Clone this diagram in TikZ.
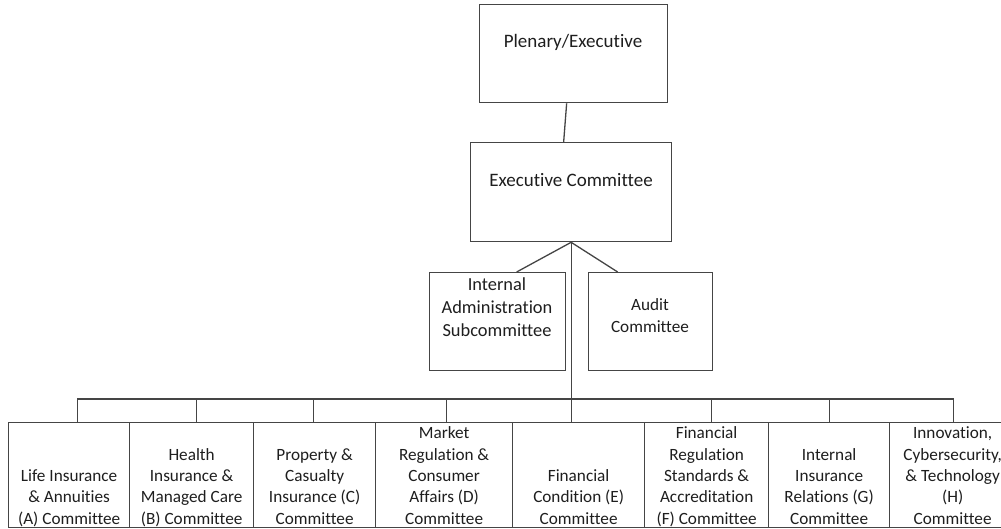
\documentclass[tikz,border=0pt]{standalone}
\usepackage{fontspec}
\setmainfont{Carlito}[RawFeature={-liga;-clig;-dlig}]
\begin{document}
\begin{tikzpicture}[x=1pt,y=-1pt,
  box/.style={draw=linec,line width=1.3pt,inner sep=0pt,anchor=north west},
  conn/.style={draw=linec,line width=1.3pt},
  btxt/.style={align=center,inner sep=0pt,text depth=0pt,anchor=south,text=txtc,font=\fontsize{17.2}{21.3}\selectfont},
  mtxt/.style={align=center,inner sep=0pt,text=txtc,font=\fontsize{18.4}{22.8}\selectfont},
  ttxt/.style={align=center,inner sep=0pt,text=txtc,font=\fontsize{19}{23}\selectfont}]
\definecolor{linec}{HTML}{454545}
\definecolor{txtc}{HTML}{1E1E1E}
\useasboundingbox (0,0) rectangle (1001,529);
% top boxes
\node[box,minimum width=188pt,minimum height=98pt] (plen) at (479,4) {};
\node[ttxt] (plent) at (573,42) {Plenary/Executive};
\node[box,minimum width=201pt,minimum height=99pt] (exec) at (470,142) {};
\node[ttxt] (exect) at (571,180) {Executive Committee};
% middle boxes
\node[box,minimum width=136pt,minimum height=98pt] (ia) at (429,272) {};
\node[mtxt] (iat) at (497,307) {Internal\\Administration\\Subcommittee};
\node[box,minimum width=124pt,minimum height=98pt] (aud) at (588,272) {};
\node[mtxt,font=\fontsize{17.2}{22}\selectfont] (audt) at (650,316) {Audit\\Committee};
% bottom boxes
\node[box,minimum width=121pt,minimum height=105pt] (a) at (8,422) {};
\node[box,minimum width=124pt,minimum height=105pt] (b) at (129,422) {};
\node[box,minimum width=122pt,minimum height=105pt] (c) at (253,422) {};
\node[box,minimum width=137pt,minimum height=105pt] (d) at (375,422) {};
\node[box,minimum width=132pt,minimum height=105pt] (e) at (512,422) {};
\node[box,minimum width=124pt,minimum height=105pt] (f) at (644,422) {};
\node[box,minimum width=121pt,minimum height=105pt] (g) at (768,422) {};
\node[box,minimum width=128pt,minimum height=105pt] (h) at (889,422) {};
\node[btxt] (at) at ([yshift=4pt]a.south) {Life Insurance\\\& Annuities\\(A) Committee};
\node[btxt] (bt) at ([yshift=4pt]b.south) {Health\\Insurance \&\\Managed Care\\(B) Committee};
\node[btxt] (ct) at ([yshift=4pt]c.south) {Property \&\\Casualty\\Insurance (C)\\Committee};
\node[btxt] (dt) at ([yshift=4pt]d.south) {Market\\Regulation \&\\Consumer\\Affairs (D)\\Committee};
\node[btxt] (et) at ([yshift=4pt]e.south) {Financial\\Condition (E)\\Committee};
\node[btxt] (ft) at ([yshift=4pt]f.south) {Financial\\Regulation\\Standards \&\\Accreditation\\(F) Committee};
\node[btxt] (gt) at ([yshift=4pt]g.south) {Internal\\Insurance\\Relations (G)\\Committee};
\node[btxt] (ht) at ([xshift=-1pt,yshift=4pt]h.south) {Innovation,\\Cybersecurity,\\\& Technology\\(H)\\Committee};
% connectors
\draw[conn] ([xshift=-7pt]plen.south) -- ([xshift=-7.5pt]exec.north);
\draw[conn] (exec.south) -- ([xshift=19pt]ia.north);
\draw[conn] (exec.south) -- ([xshift=-33pt]aud.north);
\draw[conn] (exec.south) -- (exec.south |- e.north);
\draw[conn] ([xshift=8.5pt]a.north) -- ++(0,-23) -| (h.north);
\draw[conn] ([xshift=5pt]b.north) -- ++(0,-23);
\draw[conn] ([xshift=-1pt]c.north) -- ++(0,-23);
\draw[conn] ([xshift=2.5pt]d.north) -- ++(0,-23);
\draw[conn] ([xshift=5pt]f.north) -- ++(0,-23);
\draw[conn] ([xshift=0.5pt]g.north) -- ++(0,-23);
\end{tikzpicture}
\end{document}
